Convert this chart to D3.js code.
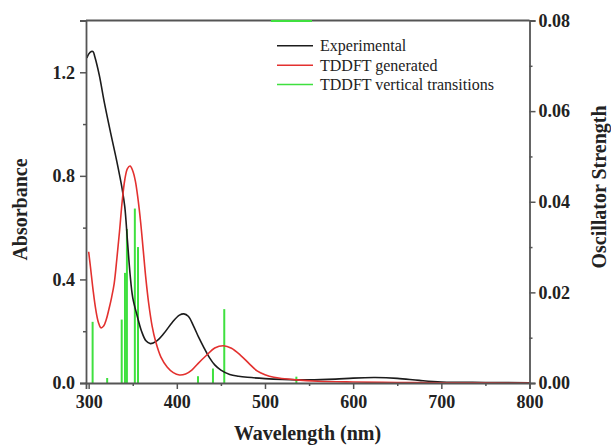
<!DOCTYPE html>
<html>
<head>
<meta charset="utf-8">
<script src="https://cdn.jsdelivr.net/npm/d3@7/dist/d3.min.js"></script>
<style>
  html, body { margin: 0; padding: 0; background: #fff; }
  svg { display: block; }
  text { font-family: "Liberation Serif", "Times New Roman", serif; }
</style>
</head>
<body>
<svg id="chart" width="611" height="447"></svg>
<script>
// ---------- data ----------
const expWavelength = [298, 300, 303, 305, 307, 312, 318, 325, 332, 338, 341, 344, 347, 350, 355, 360, 365, 370, 377, 385, 395, 403, 408, 413, 419, 425, 431, 437, 443, 450, 460, 470, 480, 500, 520, 550, 580, 600, 625, 650, 675, 700, 750, 800];
const expAbsorbance = [1.255, 1.27, 1.28, 1.28, 1.26, 1.19, 1.08, 0.965, 0.855, 0.75, 0.68, 0.55, 0.42, 0.33, 0.26, 0.2, 0.163, 0.152, 0.162, 0.19, 0.235, 0.262, 0.267, 0.258, 0.22, 0.175, 0.135, 0.098, 0.07, 0.05, 0.033, 0.026, 0.022, 0.017, 0.014, 0.012, 0.015, 0.019, 0.021, 0.018, 0.01, 0.004, 0.002, 0.001];

const tdWavelength = [300, 302, 305, 308, 311, 314, 317, 320, 323, 326, 329, 332, 335, 338, 341, 344, 347, 350, 353, 356, 359, 362, 365, 368, 372, 376, 382, 389, 396, 403, 410, 417, 424, 434, 443, 453, 462, 472, 482, 491, 500, 510, 536, 560, 600, 650, 700, 800];
const tdAbsorbance = [0.507, 0.45, 0.36, 0.285, 0.235, 0.213, 0.22, 0.245, 0.285, 0.33, 0.385, 0.48, 0.585, 0.7, 0.785, 0.828, 0.838, 0.82, 0.78, 0.71, 0.62, 0.51, 0.4, 0.31, 0.22, 0.16, 0.1, 0.062, 0.04, 0.031, 0.035, 0.05, 0.075, 0.108, 0.135, 0.144, 0.134, 0.108, 0.075, 0.047, 0.032, 0.022, 0.012, 0.007, 0.004, 0.002, 0.001, 0.0];

const transWavelength = [304.5, 321, 337.5, 341.2, 343.4, 352.4, 356, 424, 441, 453.8, 535.6];
const transStrength = [0.0135, 0.0011, 0.014, 0.0243, 0.034, 0.0385, 0.03, 0.0015, 0.0032, 0.0163, 0.0014];

const xTicks = [300, 400, 500, 600, 700, 800];
const xMinorTicks = [350, 450, 550, 650, 750];
const yLeftTicks = [0.0, 0.4, 0.8, 1.2];
const yLeftMinorTicks = [0.2, 0.6, 1.0];
const yRightTicks = [0.00, 0.02, 0.04, 0.06, 0.08];
const yRightMinorTicks = [0.01, 0.03, 0.05, 0.07];

const seriesNames = ["Experimental", "TDDFT generated", "TDDFT vertical transitions"];
const seriesColors = ["#1c1c1c", "#e3312f", "#3fe03f"];

// ---------- layout ----------
const svg = d3.select("#chart");
const L = 86, R = 529.5, T = 20.5, B = 383;
const axisColor = "#555";

const x = d3.scaleLinear().domain([297, 800]).range([L, R]);
const yL = d3.scaleLinear().domain([0, 1.4]).range([B, T]);
const yR = d3.scaleLinear().domain([0, 0.08]).range([B, T]);

// ---------- marks ----------
const gPlot = svg.append("g");

gPlot.selectAll("line.trans")
  .data(transWavelength.map((w, i) => ({ w, f: transStrength[i] })))
  .join("line")
  .attr("class", "trans")
  .attr("x1", d => x(d.w)).attr("x2", d => x(d.w))
  .attr("y1", yR(0)).attr("y2", d => yR(d.f))
  .attr("stroke", seriesColors[2]).attr("stroke-width", 2);

const line = (yScale) => d3.line()
  .x(d => x(d[0])).y(d => yScale(d[1]))
  .curve(d3.curveCatmullRom.alpha(0.5));

gPlot.append("path")
  .datum(expWavelength.map((w, i) => [w, expAbsorbance[i]]))
  .attr("d", line(yL))
  .attr("fill", "none").attr("stroke", seriesColors[0]).attr("stroke-width", 1.6);

gPlot.append("path")
  .datum(tdWavelength.map((w, i) => [w, tdAbsorbance[i]]))
  .attr("d", line(yL))
  .attr("fill", "none").attr("stroke", seriesColors[1]).attr("stroke-width", 1.6);

// ---------- axes ----------
function styleAxis(g) {
  g.selectAll(".domain").attr("stroke", axisColor).attr("stroke-width", 1.8);
  g.selectAll(".tick line").attr("stroke", axisColor).attr("stroke-width", 1.5);
  g.selectAll(".tick text")
    .attr("fill", "#222")
    .style("font-family", '"Liberation Serif", "Times New Roman", serif')
    .style("font-weight", "bold")
    .style("font-size", "18px");
}

// top border
svg.append("line").attr("x1", L).attr("x2", R).attr("y1", T).attr("y2", T)
  .attr("stroke", axisColor).attr("stroke-width", 1.8);

svg.append("g").attr("transform", `translate(0,${B})`)
  .call(d3.axisBottom(x).tickValues(xMinorTicks).tickSize(3).tickFormat(""))
  .call(g => g.select(".domain").remove())
  .call(styleAxis);
svg.append("g").attr("transform", `translate(0,${B})`)
  .call(d3.axisBottom(x).tickValues(xTicks).tickSize(6).tickPadding(6).tickFormat(d3.format("d")))
  .call(styleAxis);

svg.append("g").attr("transform", `translate(${L},0)`)
  .call(d3.axisLeft(yL).tickValues(yLeftMinorTicks).tickSize(3).tickFormat(""))
  .call(g => g.select(".domain").remove())
  .call(styleAxis);
svg.append("g").attr("transform", `translate(${L},0)`)
  .call(d3.axisLeft(yL).tickValues(yLeftTicks).tickSize(6).tickPadding(5).tickFormat(d3.format(".1f")))
  .call(styleAxis);

svg.append("g").attr("transform", `translate(${R},0)`)
  .call(d3.axisRight(yR).tickValues(yRightMinorTicks).tickSize(3).tickFormat(""))
  .call(g => g.select(".domain").remove())
  .call(styleAxis);
svg.append("g").attr("transform", `translate(${R},0)`)
  .call(d3.axisRight(yR).tickValues(yRightTicks).tickSize(6).tickPadding(3).tickFormat(d3.format(".2f")))
  .call(styleAxis);

// ---------- titles ----------
const titleStyle = s => s.attr("fill", "#222")
  .style("font-weight", "bold").style("font-size", "20px");

svg.append("text").text("Wavelength (nm)")
  .attr("x", 307.5).attr("y", 440).attr("text-anchor", "middle").call(titleStyle);

svg.append("text").text("Absorbance")
  .attr("transform", "translate(27,209.5) rotate(-90)")
  .attr("text-anchor", "middle").call(titleStyle);

svg.append("text").text("Oscillator Strength")
  .attr("transform", "translate(606,187) rotate(-90)")
  .attr("text-anchor", "middle").call(titleStyle);

// ---------- legend ----------
const legend = svg.append("g");
// stray green legend stroke sitting on the top frame in the original
legend.append("line").attr("x1", 271).attr("x2", 312).attr("y1", T + 0.5).attr("y2", T + 0.5)
  .attr("stroke", seriesColors[2]).attr("stroke-width", 2);

const rowY = [45.7, 65.2, 84.5];
seriesNames.forEach((name, i) => {
  legend.append("line")
    .attr("x1", 277).attr("x2", 313).attr("y1", rowY[i]).attr("y2", rowY[i])
    .attr("stroke", seriesColors[i]).attr("stroke-width", 1.6);
  legend.append("text").text(name)
    .attr("x", 320).attr("y", rowY[i] + 5.5)
    .attr("fill", "#222").style("font-size", "16px");
});
</script>
</body>
</html>
